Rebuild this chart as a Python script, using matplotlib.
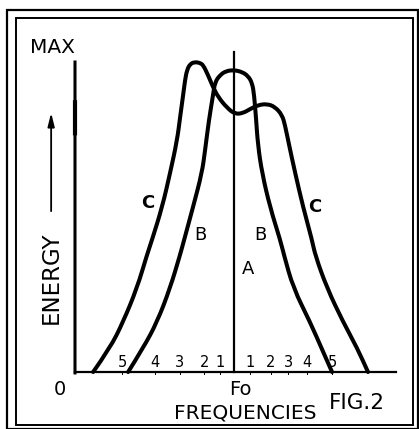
import matplotlib
matplotlib.use("Agg")
import matplotlib.pyplot as plt
from matplotlib.patches import Rectangle, PathPatch
from matplotlib.path import Path

# frequency offset from Fo (arbitrary units) and relative energy (0..100)
c_x = [-44.3, -39.0, -34.9, -30.5, -27.4, -25.8, -22.6, -20.1, -17.9, -17.0,
       -16.0, -15.4, -14.8, -13.8, -12.3, -10.7, -9.7, -8.2, -6.6, -5.0,
       -2.2, 0.3, 2.8, 5.0, 7.5, 10.4, 12.9, 15.1, 16.0, 17.3,
       19.2, 21.7, 24.5, 25.5, 29.2, 34.3, 38.7, 42.1]
c_y = [0.0, 7.7, 16.1, 27.1, 37.7, 42.6, 53.2, 64.2, 74.8, 81.9,
       89.4, 94.2, 97.4, 99.4, 100.0, 99.7, 99.0, 95.8, 91.9, 88.7,
       85.2, 83.2, 83.5, 84.8, 86.1, 86.5, 85.5, 82.9, 79.7, 73.2,
       64.2, 53.2, 42.6, 37.7, 27.1, 16.1, 7.7, 0.0]

b_x = [-33.3, -28.6, -24.2, -20.1, -17.0, -15.7, -12.9, -10.1, -9.1, -7.9,
       -6.6, -6.0, -4.4, -2.5, 0.0, 2.5, 4.4, 5.7, 6.3, 6.9, 7.5,
       8.8, 11.3, 14.5, 15.7, 18.6, 23.9, 28.0, 30.8]
b_y = [0.0, 7.7, 16.1, 27.1, 37.7, 42.6, 53.2, 64.2, 71.6, 81.3,
       89.4, 93.5, 95.8, 97.1, 97.4, 96.8, 95.5, 93.2, 89.4, 81.9, 73.2,
       64.2, 53.2, 42.6, 37.7, 27.1, 16.1, 6.5, 0.0]

# carrier line A at Fo
a_x = [0.0, 0.0]
a_y = [0.0, 103.2]

# sideband numbers along the base line
side_pos = [-35.2, -24.8, -17.0, -9.4, -4.4, 5.0, 11.6, 17.0, 23.0, 30.8]
side_lbl = ["5", "4", "3", "2", "1", "1", "2", "3", "4", "5"]


def smooth_curve(xs, ys):
    # quadratic bezier through the midpoints, using the readings as control points
    verts = [(xs[0], ys[0])]
    codes = [Path.MOVETO]
    for i in range(1, len(xs) - 1):
        verts.append((xs[i], ys[i]))
        verts.append(((xs[i] + xs[i + 1]) / 2, (ys[i] + ys[i + 1]) / 2))
        codes += [Path.CURVE3, Path.CURVE3]
    verts.append((xs[-1], ys[-1]))
    codes.append(Path.LINETO)
    return Path(verts, codes)


fig = plt.figure(figsize=(4.19, 4.29), dpi=100)
fig.patch.set_facecolor("white")

# double border round the figure
fig.add_artist(Rectangle((7 / 419, 0.0), 411 / 419, 419 / 429,
                         transform=fig.transFigure, fill=False, lw=1.6, color="black"))
fig.add_artist(Rectangle((16 / 419, 4 / 429), 397 / 419, 407 / 429,
                         transform=fig.transFigure, fill=False, lw=1.4, color="black"))

ax = fig.add_axes([75 / 419, 57 / 429, 321 / 419, 310 / 429])
ax.set_xlim(-50, 50.9)
ax.set_ylim(0, 100)
ax.set_facecolor("none")
for s in ["top", "right", "left"]:
    ax.spines[s].set_visible(False)
ax.spines["bottom"].set_linewidth(1.6)
ax.set_xticks([])
ax.set_yticks([])

ink = "black"
# energy axis, with a heavier stroke part way up
ax.plot([-50, -50], [-0.3, 100], color=ink, lw=2.2, clip_on=False, snap=False)
ax.plot([-50, -50], [77, 87], color=ink, lw=3.0, clip_on=False, snap=False)

for xs, ys in [(c_x, c_y), (b_x, b_y)]:
    ax.add_patch(PathPatch(smooth_curve(xs, ys), fill=False, edgecolor=ink, lw=2.9,
                           joinstyle="round", capstyle="round", clip_on=False))
ax.plot(a_x, a_y, color=ink, lw=1.6, clip_on=False)

for p, t in zip(side_pos, side_lbl):
    ax.text(p, 3.0, t, ha="center", va="center", fontsize=10.5)
    ax.plot([p, p], [0, -0.8], color=ink, lw=0.7, clip_on=False)

ax.text(-27.0, 54.5, "C", ha="center", va="center", fontsize=13, fontweight="bold")
ax.text(25.5, 53.2, "C", ha="center", va="center", fontsize=13, fontweight="bold")
ax.text(-10.7, 44.2, "B", ha="center", va="center", fontsize=13)
ax.text(8.2, 44.2, "B", ha="center", va="center", fontsize=13)
ax.text(4.4, 33.2, "A", ha="center", va="center", fontsize=13)

ax.text(-57.0, 104.8, "MAX", ha="center", va="center", fontsize=14.5, clip_on=False)
ax.text(-57.5, 30.3, "ENERGY", ha="center", va="center", rotation=90, fontsize=16.5, clip_on=False)
ax.annotate("", xy=(-57.5, 84.5), xytext=(-57.5, 51.0),
            arrowprops=dict(arrowstyle="-|>,head_length=0.8,head_width=0.2", color=ink, lw=1.3),
            annotation_clip=False)

ax.text(-54.7, -5.5, "0", ha="center", va="center", fontsize=14)
ax.text(1.9, -5.8, "Fo", ha="center", va="center", fontsize=14)
ax.text(3.5, -13.2, "FREQUENCIES", ha="center", va="center", fontsize=14.5)
ax.text(38.6, -10.0, "FIG.2", ha="center", va="center", fontsize=15.5)

fig.savefig("out.png", dpi=100)
